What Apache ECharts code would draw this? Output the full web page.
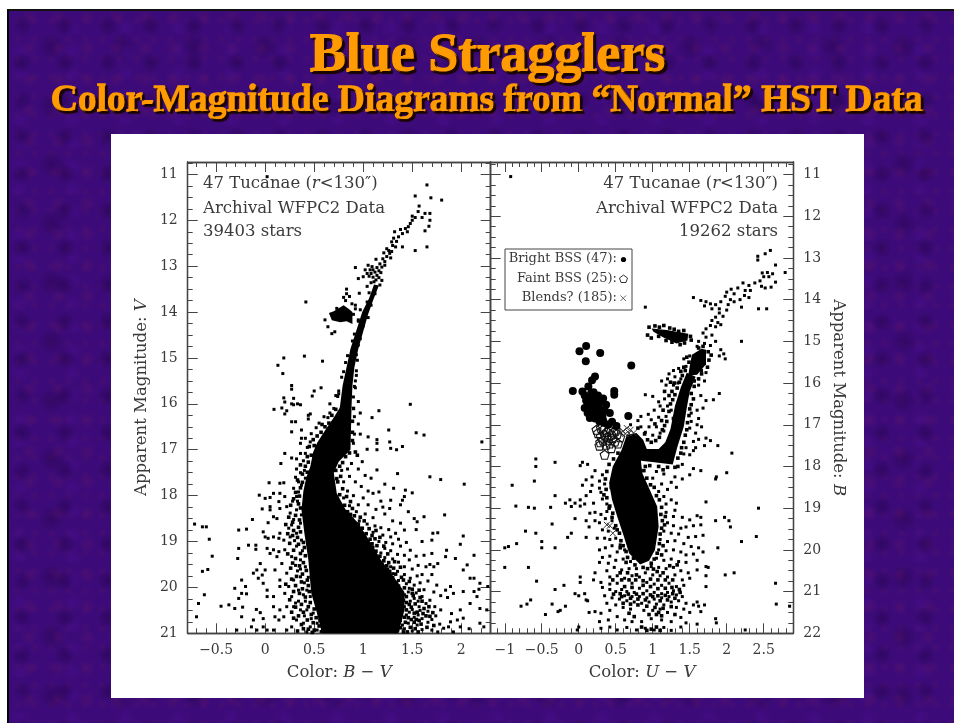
<!DOCTYPE html>
<html><head><meta charset="utf-8">
<style>
html,body{margin:0;padding:0;background:#fff;width:954px;height:723px;overflow:hidden}
#slide{position:absolute;left:7px;top:9px;width:947px;height:714px;box-sizing:border-box;border-left:2px solid #000;border-top:2px solid #111;
background-color:#3d0b79;
background-image:
radial-gradient(circle at 30% 40%,rgba(25,0,60,.36) 0,rgba(25,0,60,0) 11px),
radial-gradient(circle at 70% 20%,rgba(95,20,105,.36) 0,rgba(95,20,105,0) 8px),
radial-gradient(circle at 20% 75%,rgba(75,15,150,.36) 0,rgba(75,15,150,0) 9px),
radial-gradient(circle at 60% 60%,rgba(25,0,55,.3) 0,rgba(25,0,55,0) 14px),
radial-gradient(circle at 50% 50%,rgba(95,20,100,.26) 0,rgba(95,20,100,0) 5px);
background-size:43px 37px,29px 31px,53px 23px,71px 59px,17px 19px}
#panel{position:absolute;left:111px;top:134px;width:753px;height:564px;background:#fff}
#chart{position:absolute;left:0;top:0;width:954px;height:723px}
</style></head><body>
<div id="slide"></div><div id="panel"></div><div id="chart"></div>
<script src="https://cdn.jsdelivr.net/npm/echarts@6/dist/echarts.min.js"></script>
<script>
const titleText="Blue Stragglers";
const subtitleText="Color-Magnitude Diagrams from “Normal” HST Data";
const leftXLabels=[-0.5,0,0.5,1,1.5,2];
const rightXLabels=[-1,-0.5,0,0.5,1,1.5,2,2.5];
const leftYLabels=[11,12,13,14,15,16,17,18,19,20,21];
const rightYLabels=[11,12,13,14,15,16,17,18,19,20,21,22];

// Solid black regions of the left diagram, [B-V, V]
const leftCore=[[0.77,16.05],[0.70,16.3],[0.62,16.55],[0.53,16.85],[0.49,17.05],[0.46,17.37],[0.42,17.6],[0.39,17.9],[0.37,18.3],[0.40,18.82],[0.44,19.4],[0.47,20.13],[0.52,20.5],[0.58,21],[1.36,21],[1.42,20.5],[1.42,20.1],[1.31,19.77],[1.18,19.4],[1.08,19.04],[0.95,18.6],[0.82,18.3],[0.73,17.95],[0.70,17.5],[0.75,17.26],[0.87,17],[0.88,16.14],[0.87,16.05]];
const leftGiant=[[1.11,13.4],[1.06,13.7],[0.99,14.0],[0.93,14.4],[0.87,14.8],[0.83,15.2],[0.79,15.6],[0.76,16.1],[0.88,16.1],[0.89,15.6],[0.91,15.2],[0.95,14.8],[0.99,14.5],[1.05,14.05],[1.10,13.75],[1.16,13.42]];
const leftClump=[[0.65,14.02],[0.70,13.98],[0.80,13.85],[0.85,13.93],[0.89,14.0],[0.89,14.26],[0.83,14.2],[0.765,14.22],[0.68,14.18]];
// Individually read stars of the left diagram, [B-V, V]
const leftStars=[[0.02,11.05],[1.65,11.23],[1.53,11.47],[1.69,11.51],[1.80,11.56],[1.57,11.69],[1.56,11.81],[1.68,11.85],[1.63,11.85],[1.50,11.91],[1.53,11.94],[1.60,11.94],[1.68,12.0],[1.67,12.13],[1.46,12.14],[1.50,12.0],[1.43,12.18],[1.48,12.07],[1.45,12.25],[1.40,12.29],[1.32,12.25],[1.38,12.2],[1.36,12.36],[1.31,12.39],[1.29,12.47],[1.33,12.58],[1.40,12.58],[1.53,12.66],[1.65,12.58],[1.63,12.23],[1.21,12.71],[1.26,12.66],[1.29,12.68],[1.13,12.85],[1.34,12.46],[1.24,12.62],[1.30,12.55],[1.05,12.98],[1.09,13.01],[1.04,13.16],[1.0,13.23],[1.08,13.16],[1.02,13.08],[1.07,13.08],[0.92,13.03],[0.95,13.27],[1.11,13.34],[1.17,13.41],[1.04,13.44],[0.83,13.5],[0.83,13.6],[0.80,13.68],[0.86,13.66],[0.96,13.59],[0.415,13.78],[0.61,14.17],[0.64,14.32],[0.68,14.47],[0.71,14.43],[0.92,13.85],[0.885,13.82],[0.95,14.17],[0.82,13.75],[0.92,13.93],[0.90,14.05],[0.73,13.92],[0.75,13.96],
[1.24,12.79],[1.20,12.84],[1.22,12.9],[1.17,12.95],[1.19,13.02],[1.14,13.03],[1.16,13.1],[1.12,13.13],[1.18,13.14],[1.14,13.2],[1.10,13.24],[1.16,13.25],[1.13,13.3],[1.19,13.31],[1.08,13.36],[1.27,12.72],[1.28,12.82],[1.22,12.98],[1.1,13.08],[1.06,13.22],
[1.06,13.58],[1.12,13.6],[1.04,13.78],[1.08,13.85],[0.97,13.95],[1.05,14.12],[0.95,14.2],[1.0,14.3],[0.91,14.48],[0.97,14.58],[0.89,14.63],[0.95,14.72],[0.84,14.95],[0.93,14.93],[0.94,15.05],[0.82,15.1],[0.93,15.28],[0.80,15.3],[0.78,15.42],[0.92,15.5],[0.91,15.62],[0.75,15.72],[0.74,15.84],[0.90,15.85],
[0.19,15],[0.40,14.96],[0.13,15.16],[0.585,15.07],[0.18,15.34],[0.27,15.6],[0.27,15.68],[0.57,15.65],[0.5,15.72],[0.48,15.83],[0.19,15.87],[0.2,15.96],[0.29,15.88],[0.29,16.02],[0.36,16.02],[0.17,16.09],[0.09,16.12],[0.22,16.15],[0.2,16.22],[0.44,16.25],[0.27,16.0],[0.33,16.0],[1.16,16.15],[1.48,16.01],[1.09,16.3],[0.66,16.0],[0.72,15.82],[0.75,15.78],[0.92,15.65],[0.93,15.38],[0.70,16.1],[0.66,16.2],[0.64,16.3],[0.95,15.95],[0.97,16.2],
[0.27,16.39],[0.31,16.39],[0.44,16.33],[0.46,16.22],[0.27,16.61],[0.37,16.57],[0.37,16.75],[0.36,16.86],[0.46,16.83],[0.2,17.08],[0.36,17.08],[0.41,17.08],[0.16,17.3],[0.27,17.18],[0.32,17.2],[0.32,17.42],[0.52,16.52],[0.55,16.42],[0.60,16.28],[0.41,16.75],[0.47,16.65],[0.43,16.95],[0.39,17.24],[0.36,17.5],[0.31,17.6],[0.40,17.45],
[0.91,16.28],[0.95,16.44],[1.26,16.57],[1.54,16.63],[1.62,16.68],[2.21,16.83],[1.27,16.83],[1.40,16.93],[1.28,16.97],[1.34,17],[1.14,17],[1.04,16.99],[1.14,16.86],[1.14,16.78],[1.05,16.72],[0.97,16.66],[0.91,16.66],[0.90,16.86],[0.99,17.26],[1.14,17.44],[1.35,17.52],[1.68,17.59],[1.79,17.65],[2.03,17.75],[1.31,17.84],[1.43,17.88],[1.5,17.94],[1.22,17.75],[0.88,17.3],[0.84,17.42],[0.95,17.42],[1.02,17.56],[1.08,17.62],[0.78,17.45],[0.86,17.58],[0.92,17.7],[0.80,17.7],[0.98,17.8],[1.05,17.9],[1.1,17.95],[1.16,17.92],[0.84,17.9],[0.90,18.0],[0.80,18.05],[1.0,18.05],[1.18,18.12],[1.28,18.1],[1.4,18.1],[1.42,18.02],[1.38,18.2],[0.95,18.2],[1.05,18.2],[1.13,18.3],[1.2,18.25],[1.27,18.28],[0.86,18.22],[0.93,18.35],[1.02,18.4],[1.1,18.48],[1.22,18.4],[1.3,18.55],[1.38,18.6],[1.46,18.35],[1.52,18.5],
[1.83,18.42],[1.62,18.46],[1.55,18.57],[1.54,18.74],[1.71,18.82],[1.76,18.81],[1.70,18.97],[2.02,18.88],[1.99,19.06],[2.13,19.3],[1.85,19.19],[1.94,19.37],[1.84,19.33],[1.7,19.26],[1.6,19.0],[1.48,19.19],[1.54,19.32],[1.62,19.3],[2.06,19.51],[2.02,19.62],[2.09,19.8],[2.13,19.8],[2.19,19.91],[2.18,20.04],[2.27,19.98],[2.13,20.09],[2.02,20.09],[2.16,20.2],[2.09,20.35],[2.19,20.46],[2.26,20.49],[1.89,19.98],[1.84,20.06],[1.92,20.13],[1.86,20.22],[1.79,20.18],[1.9,20.57],[1.99,20.49],[2.02,20.67],[1.96,20.71],[1.89,20.75],[1.87,20.86],[2.19,20.78],[2.23,20.86],[2.08,20.9],[1.99,20.86],[1.92,20.97],[1.82,20.89],[1.79,20.49],[1.73,20.42],[1.68,20.28],[1.72,19.55],[1.68,19.5],[1.64,19.55],[1.76,19.48],[1.7,19.72],[1.6,19.72],[1.66,19.86],[1.75,19.95],[1.72,20.1],[1.62,20.05],
[0.96,18.55],[1.04,18.62],[1.12,18.66],[1.18,18.7],[1.26,18.74],[1.33,18.82],[1.42,18.75],[1.28,18.9],[1.2,18.86],[1.36,18.95],[1.10,18.8],[1.16,19.0],[1.23,19.02],[1.30,19.05],[1.38,19.1],[1.44,19.02],[1.22,19.15],[1.28,19.2],[1.35,19.28],[1.42,19.3],[1.47,19.4],[1.30,19.38],[1.22,19.35],[1.36,19.45],[1.42,19.55],[1.5,19.6],[1.56,19.52],[1.28,19.55],[1.35,19.65],[1.42,19.72],[1.48,19.8],[1.55,19.75],[1.36,19.85],[1.44,19.92],[1.52,19.95],[1.58,19.9],[1.38,20.05],[1.46,20.1],[1.54,20.12],[1.6,20.2],[1.40,20.22],[1.48,20.3],[1.56,20.3],[1.64,20.35],[1.36,20.32],[1.42,20.42],[1.5,20.48],[1.58,20.5],[1.66,20.52],[1.36,20.55],[1.44,20.6],[1.52,20.65],[1.6,20.68],[1.38,20.72],[1.46,20.78],[1.55,20.82],[1.34,20.85],[1.42,20.9],[1.5,20.95],[1.6,20.92],[1.34,20.65],[1.37,20.42],[1.7,20.7],[1.74,20.62],[1.78,20.8],[1.7,20.93],[1.76,20.97],[1.66,20.76],[1.33,20.25],[1.47,20.02],[1.3,19.7],[1.32,19.95],[1.25,19.6],[1.18,19.25],[1.1,19.12],[1.42,20.16],[1.52,20.24],[1.57,20.42],[1.47,20.54],[1.56,20.6],[1.4,20.82],
[0.15,17.73],[0.04,17.72],[0.19,17.72],[0.34,17.7],[0.37,17.77],[0.32,18.02],[0.2,18.02],[0.15,17.95],[-0.06,17.99],[0,18.06],[0.05,18.04],[0.085,17.95],[0.05,18.24],[0.05,18.31],[-0.03,18.29],[0.14,18.13],[0.15,18.28],[0.085,18.46],[0.12,18.5],[0.03,18.59],[-0.02,18.79],[0,18.9],[0.03,18.93],[0.085,18.9],[0.15,18.82],[0.14,18.93],[0.19,18.97],[0.24,18.71],[0.27,18.64],[0.29,18.52],[0.255,18.38],[0.22,18.24],[0.32,18.31],[0.36,18.6],[0.32,18.82],[0.255,18.9],[0.37,18.97],[0.32,19.1],[0.2,19.18],[0.14,19.22],[0.085,19.18],[0.02,19.15],[0.05,19.26],[0.12,19.33],[0,19.62],[-0.05,19.48],[-0.085,19.62],[-0.12,19.69],[-0.03,19.73],[-0.07,19.8],[-0.02,19.91],[0.1,19.62],[0.15,19.84],[0.22,19.69],[0.17,19.48],[0.27,19.33],[0.36,19.4],[0.24,19.98],[0.29,19.84],[0.36,19.77],[0.41,19.55],[0.15,19.98],[0.2,20.13],[0.27,20.2],[0.34,20.06],[0.425,20.06],[0.46,20.2],[0.085,20.2],[0.02,20.2],[0.085,20.42],[0.15,20.49],[0.14,20.71],[0.1,20.64],[0.19,20.64],[0.22,20.42],[0.29,20.42],[0.36,20.49],[0.425,20.49],[0.49,20.56],[0.32,20.71],[0.27,20.86],[0.22,20.93],[0.39,20.78],[0.46,20.86],[0.53,20.78],[0.53,20.93],[0.425,20.97],[0.085,20.93],[0.02,20.93],[-0.02,20.86],[-0.085,20.93],[0.34,20.3],[0.41,20.3],[0.38,19.2],[0.33,18.12],[0.37,18.42],[0.28,18.12],[0.41,17.62],[0.34,17.92],[0.29,17.84],[0.3,18.98],[0.36,19.6],[0.31,19.52],[0.33,19.64],[0.4,19.9],[0.44,19.78],[0.39,20.16],[0.31,20.34],[0.4,20.62],[0.47,20.68],[0.57,20.96],
[-0.72,18.62],[-0.64,18.68],[-0.60,18.68],[-0.57,18.95],[-0.54,19.32],[-0.585,19.61],[-0.64,19.65],[-0.62,20.16],[-0.68,20.35],[-0.70,20.64],[-0.27,18.75],[-0.19,18.73],[-0.13,18.52],[-0.27,19.15],[-0.17,19.08],[-0.095,19.08],[-0.095,19.17],[-0.28,19.37],[-0.24,19.84],[-0.31,20.02],[-0.2,19.98],[-0.19,20.14],[-0.24,20.13],[-0.27,20.24],[-0.45,20.41],[-0.37,20.38],[-0.31,20.46],[-0.23,20.43],[-0.24,20.64],[-0.29,20.93],[-0.14,20.86],[-0.12,20.71],[-0.09,20.48],[0.02,20.06],[-0.05,20.55],[-0.02,20.68]];
// Crowded fringe of the main sequence, left diagram, [B-V, V]
const leftFringe=[[0.36,17.33],[0.41,17.36],[0.38,17.53],[0.43,17.49],[0.33,17.66],[0.38,17.71],[0.36,17.83],[0.31,17.93],[0.35,18.01],[0.29,18.07],[0.34,18.18],[0.26,18.21],[0.36,18.27],[0.31,18.43],[0.24,18.47],[0.35,18.53],[0.28,18.58],[0.34,18.69],[0.21,18.63],[0.29,18.76],[0.36,18.79],[0.23,18.83],[0.33,18.91],[0.28,18.87],[0.39,19.02],[0.25,19.04],[0.34,19.06],[0.4,19.13],[0.29,19.19],[0.36,19.26],[0.23,19.27],[0.41,19.31],[0.31,19.37],[0.39,19.46],[0.28,19.47],[0.35,19.53],[0.42,19.63],[0.26,19.58],[0.38,19.71],[0.32,19.76],[0.43,19.84],[0.27,19.82],[0.37,19.88],[0.44,19.96],[0.31,19.96],[0.21,19.93],[0.38,20.03],[0.45,20.09],[0.29,20.09],[0.35,20.13],[0.41,20.21],[0.25,20.27],[0.46,20.33],[0.37,20.37],[0.31,20.43],[0.44,20.42],[0.5,20.47],[0.39,20.54],[0.27,20.54],[0.47,20.59],[0.34,20.62],[0.52,20.66],[0.43,20.71],[0.29,20.67],[0.37,20.81],[0.49,20.77],[0.55,20.84],[0.44,20.91],[0.33,20.95],[0.5,20.93],[0.39,20.9],[0.56,20.72],[0.48,20.98],
[0.77,17.58],[0.74,17.7],[0.79,17.85],[0.76,17.98],[0.83,18.02],[0.87,18.13],[0.81,18.21],[0.89,18.28],[0.84,18.35],[0.91,18.44],[0.87,18.41],[0.97,18.47],[0.95,18.62],[1.01,18.55],[0.99,18.71],[1.06,18.72],[1.03,18.83],[1.09,18.87],[1.13,18.76],[1.07,18.95],[1.12,18.94],[1.17,18.91],[1.09,19.05],[1.14,19.09],[1.21,19.1],[1.13,19.21],[1.17,19.32],[1.25,19.27],[1.21,19.42],[1.26,19.46],[1.32,19.44],[1.19,19.49],[1.24,19.53],[1.31,19.58],[1.38,19.56],[1.27,19.65],[1.33,19.71],[1.39,19.78],[1.3,19.79],[1.34,19.89],[1.41,19.84],[1.47,19.87],[1.36,19.97],[1.42,20.01],[1.5,20.04],[1.39,20.12],[1.44,20.2],[1.51,20.18],[1.57,20.06],[1.41,20.28],[1.47,20.37],[1.53,20.36],[1.6,20.3],[1.39,20.37],[1.44,20.49],[1.52,20.56],[1.61,20.57],[1.39,20.5],[1.42,20.65],[1.49,20.7],[1.57,20.72],[1.64,20.62],[1.36,20.76],[1.43,20.76],[1.52,20.76],[1.59,20.8],[1.65,20.87],[1.35,20.93],[1.45,20.97],[1.53,20.9],[1.56,20.97],[1.38,20.88],[1.33,20.96],[1.35,20.6],[1.38,20.28],[1.62,20.46],[1.55,20.54],[1.49,20.43],[1.46,20.66],[1.54,20.7],[1.48,20.87],[1.41,20.97],[1.38,20.62],[1.35,20.47],[1.44,20.33],[1.5,20.13],[1.58,20.22],[1.67,20.42],[1.71,20.55],[1.68,20.63],[1.72,20.83],
[0.61,16.5],[0.57,16.62],[0.53,16.7],[0.49,16.78],[0.5,16.91],[0.45,16.93],[0.47,17.12],[0.43,17.15],[0.44,17.27],[0.58,16.45],[0.65,16.42],[0.68,16.25],[0.72,16.12],[0.9,16.1],[0.89,16.38],[0.89,16.62],[0.89,16.8],[0.86,17.07],[0.82,17.15],[0.79,17.28],[0.76,17.36],[0.72,17.45],[0.73,17.63],[0.92,17.05],[0.94,17.12]];

// Solid black regions of the right diagram, [U-V, B]
const rightCore=[[0.65,17.24],[0.58,17.6],[0.46,18],[0.41,18.4],[0.45,18.8],[0.52,19.2],[0.61,19.68],[0.68,20.08],[0.83,20.35],[0.95,20.26],[1.03,20],[1.08,19.44],[1.06,18.96],[0.96,18.56],[0.86,18.16],[0.84,17.86],[1.02,17.9],[1.27,17.95],[1.33,17.55],[1.42,17.04],[1.46,16.6],[1.5,16.2],[1.58,15.85],[1.46,15.75],[1.38,16.1],[1.3,16.55],[1.24,17.1],[1.17,17.42],[1.08,17.58],[0.92,17.58],[0.87,17.36],[0.78,17.2]];
const rightGiant=[[1.5,15.6],[1.53,15.32],[1.66,15.18],[1.72,15.2],[1.72,15.55],[1.6,15.8],[1.48,15.82]];
const rightClump=[[0.985,14.69],[1.19,14.73],[1.48,14.82],[1.47,14.98],[1.32,15.05],[1.14,14.90],[1.01,14.77]];
// Highlighted blue stragglers, [U-V, B]
const brightBSS=[[0.10,15.11],[0.01,15.24],[0.29,15.28],[0.095,15.48],[0.71,15.58],[0.22,15.84],[0.18,15.93],[-0.08,16.19],[0.05,16.2],[0.13,16.08],[0.17,16.24],[0.48,16.19],[0.48,16.28],[0.10,16.42],[0.22,16.37],[0.33,16.37],[0.22,16.49],[0.15,16.69],[0.22,16.73],[0.35,16.65],[0.67,16.79],[0.15,16.84],[0.25,16.72],[0.42,16.72],[0.28,16.92],[0.40,17.0],[0.51,17.03],[0.08,16.3],[0.14,16.34],[0.27,16.56],[0.12,16.5],[0.2,16.62],[0.18,16.78],[0.3,16.44],[0.26,16.3],[0.17,16.58],[0.12,16.72],[0.22,16.85],[0.32,16.8],[0.34,16.95],[0.45,16.93],[0.27,16.68],[0.08,16.6],[0.15,16.42],[0.37,16.52],[0.2,16.22],[0.33,16.9]];
const faintBSS=[[0.26,17.2],[0.35,17.24],[0.44,17.24],[0.52,17.22],[0.29,17.42],[0.40,17.36],[0.49,17.4],[0.35,17.72],[0.44,17.56],[0.24,17.12],[0.33,17.12],[0.42,17.12],[0.5,17.14],[0.37,17.48],[0.46,17.32],[0.3,17.28],[0.38,17.3],[0.56,17.3],[0.28,17.5],[0.53,17.45],[0.3,17.08],[0.47,17.18],[0.38,17.17],[0.33,17.38],[0.42,17.45]];
const blends=[[0.6,17.15],[0.65,17.08],[0.7,17.12],[0.74,17.2],[0.63,17.22],[0.68,17.2],[0.55,17.2],[0.42,19.42],[0.38,19.4],[0.46,19.6]];
// Individually read stars of the right diagram, [U-V, B]
const rightStars=[[-0.92,11.05],[2.42,12.96],[2.52,12.9],[2.59,12.82],[2.42,13.05],[2.66,13.17],[2.79,13.35],[2.48,13.36],[2.55,13.35],[2.62,13.38],[2.5,13.45],[2.57,13.45],[2.45,13.55],[2.66,13.58],[2.6,13.7],[2.52,13.72],[2.47,13.68],[2.38,13.6],[2.3,13.66],[2.22,13.6],[2.25,13.78],[2.32,13.78],[2.15,13.72],[2.06,13.75],[2.0,13.82],[2.1,13.86],[2.24,13.9],[2.3,13.95],[2.18,14.0],[2.1,14.05],[2.05,14.0],[1.98,13.92],[1.92,14.05],[1.85,14.12],[1.78,14.1],[1.72,14.05],[1.65,14.02],[1.7,14.15],[1.8,14.22],[1.9,14.22],[2.02,14.12],[2.0,14.25],[1.9,14.32],[1.85,14.42],[1.95,14.4],[1.8,14.5],[1.88,14.55],[1.78,14.62],[1.85,14.65],[1.72,14.7],[1.92,14.6],[2.2,14.18],[2.43,14.22],[2.54,14.22],[1.55,13.95],[0.9,14.18],
[1.68,14.8],[1.72,14.9],[1.8,14.85],[1.62,15.0],[1.7,15.05],[1.78,15.1],[1.6,15.12],[1.85,15.0],[1.92,15.2],[1.96,15.3],[1.9,15.35],[1.98,15.42],[2.2,15.0],[1.6,15.4],[1.5,15.35],[1.55,15.45],[1.42,15.42],[1.45,15.6],[1.35,15.65],[1.28,15.7],[1.22,15.78],[1.3,15.85],[1.38,15.9],[1.2,15.9],[1.12,15.95],[1.18,16.05],[1.28,16.05],[1.34,16.0],[1.66,15.7],[1.72,15.75],[1.7,15.95],[1.62,16.05],[1.82,16.4],[1.9,16.25],[1.72,16.42],[1.65,16.3],[0.9,16.28],[1.0,16.32],[1.08,16.45],[1.16,16.38],[1.1,16.55],[1.2,16.55],[1.02,16.65],[0.94,16.75],[0.84,16.8],[0.98,16.88],[1.08,16.82],[1.18,16.8],[1.25,16.65],[1.6,16.65],[1.68,16.6],[1.52,16.72],[1.52,16.92],[1.62,16.85],[1.6,17.0],[1.66,17.05],[1.5,17.08],[1.58,17.2],[1.55,17.4],[1.62,17.35],[1.7,17.5],[1.72,17.32],[1.78,17.38],[1.58,17.55],[1.45,17.55],[1.42,17.7],[1.5,17.72],[1.55,17.62],[1.88,17.5],[2.07,17.68],[0.8,16.9],[0.7,17.0],[0.84,17.05],[0.95,17.05],[1.05,17.05],[1.1,17.2],[1.0,17.25],[0.9,17.18],[1.15,17.15],
[1.4,17.95],[1.55,18.05],[1.65,18.1],[1.85,18.3],[1.86,18.25],[2.0,18.15],[1.5,18.2],[1.4,18.3],[1.3,18.25],[1.15,18.18],[1.05,18.12],[1.0,18.28],[1.12,18.42],[1.25,18.38],[1.32,18.5],[1.2,18.55],[1.08,18.6],[1.15,18.72],[1.25,18.8],[1.18,18.9],[1.32,18.88],[1.72,18.85],[1.3,19.05],[1.18,19.1],[1.28,19.2],[1.4,19.22],[1.5,19.28],[1.6,19.18],[1.65,19.22],[1.85,19.3],[1.97,19.22],[2.03,19.3],[2.05,19.45],[2.43,19.0],[2.2,19.8],[2.4,19.68],[1.88,19.95],[1.65,19.4],[1.45,19.45],[1.55,19.42],[1.38,19.48],[1.28,19.42],[1.2,19.35],[1.15,19.55],[1.25,19.6],[1.35,19.62],[1.48,19.7],[1.58,19.68],[1.68,19.65],[1.1,19.75],[1.2,19.8],[1.3,19.78],[1.42,19.85],[1.52,19.92],[1.62,19.95],[1.68,20.05],[1.08,20.0],[1.18,20.02],[1.28,20.0],[1.38,20.05],[1.45,20.12],[1.55,20.1],[1.6,20.25],[1.05,20.2],[1.15,20.25],[1.25,20.22],[1.35,20.28],[1.45,20.3],[1.72,20.4],[1.75,20.42],[0.98,20.4],[1.08,20.42],[1.18,20.45],[1.28,20.42],[1.38,20.5],[1.48,20.55],[1.6,20.48],[1.72,20.62],[1.98,20.6],[2.1,20.55],[0.9,20.55],[1.0,20.6],[1.1,20.62],[1.2,20.65],[1.3,20.6],[1.4,20.72],[1.5,20.68],[2.66,20.8],
[0.82,20.65],[0.92,20.78],[1.02,20.82],[1.12,20.85],[1.22,20.8],[1.32,20.88],[1.42,20.85],[1.72,20.88],[0.72,20.8],[0.82,20.92],[0.92,20.98],[1.02,21.02],[1.12,21.05],[1.2,21.02],[1.28,20.98],[0.75,21.02],[0.65,21.0],[0.62,21.1],[0.72,21.12],[0.82,21.12],[0.92,21.15],[1.02,21.18],[1.12,21.15],[1.22,21.12],[1.32,21.08],[1.4,21.12],[0.58,20.95],[0.5,21.0],[0.55,21.18],[0.65,21.22],[0.75,21.25],[0.85,21.28],[0.95,21.25],[1.05,21.3],[1.15,21.32],[1.25,21.25],[1.35,21.22],[1.45,21.28],[1.55,21.32],[1.6,21.25],[0.45,21.15],[0.35,21.1],[0.38,21.28],[0.5,21.32],[0.6,21.38],[0.7,21.42],[0.88,21.45],[1.0,21.45],[1.1,21.42],[1.2,21.5],[1.32,21.38],[1.42,21.42],[1.5,21.5],[1.62,21.35],[1.7,21.32],[1.65,21.48],[1.85,21.65],[1.86,21.75],[2.67,21.3],[2.85,21.35],
[0.12,21.22],[0.0,21.1],[-0.05,21.05],[-0.18,21.35],[-0.25,21.45],[-0.28,21.48],[-0.36,21.3],[-0.45,21.55],[-0.65,21.2],[-0.7,21.3],[-0.78,21.35],[0.1,21.2],[0.14,21.5],[0.22,21.48],[0.3,21.52],[0.42,21.45],[0.28,21.72],[0.4,21.68],[0.52,21.6],[0.62,21.68],[0.72,21.72],[0.85,21.72],[0.98,21.65],[1.12,21.68],[1.25,21.72],[1.38,21.62],[1.45,21.75],[1.6,21.78],[0.3,21.88],[0.42,21.85],[0.52,21.92],[0.65,21.86],[0.78,21.92],[0.9,21.88],[1.02,21.92],[1.15,21.86],[1.25,21.93],[1.38,21.85],[0.0,21.85],[-0.02,21.92],[2.25,21.92],
[0.5,18.25],[0.32,18.2],[0.22,18.1],[0.18,18.25],[0.1,18.32],[0.05,18.45],[0.18,18.45],[0.28,18.35],[0.35,18.42],[0.28,18.52],[0.16,18.6],[0.3,18.62],[0.1,18.7],[0.02,18.8],[-0.12,18.8],[0.02,18.95],[-0.05,18.88],[0.08,18.9],[0.2,18.88],[0.32,18.78],[0.38,18.9],[0.15,19.12],[0.22,19.1],[0.3,19.15],[0.38,19.08],[0.1,19.3],[0.14,19.45],[0.22,19.3],[0.28,19.35],[0.36,19.25],[0.45,19.3],[0.48,19.48],[0.4,19.55],[0.32,19.52],[0.1,19.7],[0.25,19.72],[0.35,19.72],[0.42,19.75],[0.5,19.72],[0.56,19.88],[0.45,19.9],[0.36,19.95],[0.28,20.0],[0.62,20.0],[0.52,20.05],[0.42,20.15],[0.32,20.18],[0.28,20.3],[0.4,20.32],[0.5,20.25],[0.6,20.22],[0.7,20.28],[0.38,20.5],[0.48,20.42],[0.58,20.48],[0.68,20.45],[0.78,20.45],[0.22,20.55],[0.42,20.65],[0.52,20.62],[0.62,20.68],[0.72,20.62],[0.2,20.72],[0.3,20.78],[0.42,20.82],[0.52,20.8],[0.32,20.9],[0.42,20.95],
[0.05,17.9],[0.02,17.98],[0.12,17.95],[-0.32,17.9],[-0.58,17.82],[-0.58,18.0],[-0.6,18.35],[-0.32,18.7],[-0.38,18.98],[-0.85,18.95],[-0.9,18.45],[-0.6,19.0],[-0.68,18.98],[-0.36,19.38],[-0.72,19.55],[-0.1,18.96],[-0.1,19.6],[-0.15,19.7],[-0.05,19.25],[-0.18,18.88],[-0.5,19.8],[-0.58,19.6],[-0.84,19.85],[-1.0,19.95],[-0.95,19.92],[-1.0,20.42],[-0.68,20.42],[-0.57,20.75],[-0.32,20.95],[-0.5,19.95],[-0.32,19.95],[0.02,20.65],[-0.2,20.85],[0.02,20.78],[0.08,21.05]];
// Crowded fringe of the right diagram, [U-V, B]
const rightFringe=[[1.03,14.63],[1.09,14.66],[1.15,14.62],[1.23,14.68],[1.29,14.71],[1.35,14.76],[1.42,14.74],[1.51,14.88],[1.52,14.97],[1.43,15.04],[1.37,15.08],[1.26,15.02],[1.18,14.98],[1.08,14.88],[0.95,14.66],[0.93,14.85],[0.98,14.92],
[1.62,15.16],[1.68,15.12],[1.75,15.25],[1.79,15.33],[1.46,15.38],[1.49,15.5],[1.76,15.45],[1.74,15.62],[1.66,15.78],[1.44,15.7],[1.4,15.82],[1.62,15.9],[1.56,15.95],[1.36,15.98],[1.33,16.12],[1.56,16.08],[1.52,16.25],[1.3,16.28],[1.27,16.4],[1.55,16.38],[1.24,16.5],[1.52,16.52],[1.22,16.68],[1.5,16.62],[1.19,16.92],[1.49,16.78],[1.16,17.02],[1.47,16.95],[1.13,17.12],[1.46,17.12],[1.09,17.3],[1.44,17.25],[1.04,17.38],[0.98,17.42],[1.42,17.42],[0.93,17.36],[1.39,17.55],[1.38,17.68],[1.34,17.8],[0.89,17.22],[0.8,17.08],[1.32,16.72],[1.28,16.85],[1.26,16.2],[1.22,16.3],[1.14,16.65],[1.12,16.9],[1.03,16.98],[1.24,15.98],[1.16,16.2],[1.42,15.62],[1.38,15.72],[1.29,16.0],
[1.3,18.02],[1.2,18.02],[1.08,18.0],[0.96,17.98],[0.9,18.0],[1.14,18.08],[1.34,18.0],[0.88,18.1],[0.92,18.28],[0.97,18.44],[1.02,18.5],[1.05,18.7],[1.09,18.8],[1.12,18.98],[1.11,19.15],[1.13,19.3],[1.12,19.48],[1.16,19.4],[1.17,19.2],[1.1,19.62],[1.09,19.85],[1.14,19.9],[1.06,20.08],[1.12,20.12],[1.02,20.22],[0.98,20.32],[1.01,20.46],[1.06,20.52],[1.14,20.55],[1.23,20.38],[1.33,20.36],[0.93,20.45],[0.87,20.42],[0.76,20.36],[0.74,20.2],[0.66,20.18],[0.64,20.04],[0.6,19.9],[0.57,19.78],[0.55,19.6],[0.5,19.42],[0.46,19.12],[0.41,19.0],[0.38,18.75],[0.37,18.55],[0.36,18.3],[0.38,18.12],[0.41,17.95],[0.47,17.82],[0.53,17.68],[0.44,18.5],[0.34,18.68],[0.42,18.95],[0.45,19.22],[0.52,19.52],[0.56,19.95],[0.64,20.3],
[0.78,20.6],[0.66,20.55],[0.56,20.55],[0.46,20.72],[0.58,20.72],[0.68,20.72],[0.77,20.72],[0.87,20.74],[0.97,20.7],[1.07,20.72],[1.17,20.72],[1.27,20.72],[0.87,20.85],[0.97,20.88],[1.07,20.93],[1.17,20.92],[1.26,20.9],[1.36,20.95],[0.62,20.88],[0.72,20.9],[0.56,21.05],[0.67,21.06],[0.78,21.06],[0.87,21.05],[0.97,21.08],[1.07,21.1],[1.17,21.09],[1.27,21.05],[1.37,21.02],[0.47,21.06],[0.58,21.12],[0.7,21.16],[0.8,21.18],[0.9,21.2],[1.0,21.12],[1.1,21.22],[1.2,21.2],[1.3,21.16],[0.6,21.28],[0.7,21.3],[0.8,21.32],[0.92,21.35],[1.03,21.38],[1.14,21.4],[1.25,21.36],[1.05,21.55],[1.12,21.58],[1.08,21.5],[0.68,21.52],[0.75,21.6],[0.95,21.55],[1.3,21.55],[0.85,21.85],[0.92,21.93],[0.98,21.9],[1.05,21.85],[1.1,21.93]];

function range(a,b,s){const o=[];for(let i=0;Math.round(a*100+i*s*100)<=Math.round(b*100);i++)o.push(Math.round(a*100+i*s*100)/100);return o}
const minor=(a,b,s,maj)=>range(a,b,s).filter(v=>!maj.includes(v));
const fmt=v=>String(v).replace('-','−');
const axisColor='#444', textColor='#3a3a3a', font='DejaVu Serif';
function mkAxis(dim,pos,grid,min,max,ticks,len,labels,extra){
  return Object.assign({type:'value',gridIndex:grid,position:pos,min,max,scale:true,
    axisLine:{show:true,onZero:false,lineStyle:{color:axisColor,width:1.3}},
    axisTick:{show:true,inside:true,length:len,customValues:ticks,lineStyle:{color:axisColor,width:1}},
    splitLine:{show:false},minorTick:{show:false},
    axisLabel:labels?{show:true,customValues:labels,formatter:fmt,color:textColor,fontFamily:font,fontSize:14,margin:10,hideOverlap:false,showMinLabel:true,showMaxLabel:true}:{show:false}},extra||{});
}
function axesFor(grid,xr,yr,xMaj,xMin,yMaj,yMin,xName,yName,yPos){
  const other=yPos==='left'?'right':'left';
  const rich={a:{fontFamily:font,fontSize:16.5,color:textColor},i:{fontFamily:font,fontSize:16.5,color:textColor,fontStyle:'italic'}};
  const xs=[
   mkAxis('x','bottom',grid,xr[0],xr[1],xMaj,10,xMaj,{name:xName,nameLocation:'middle',nameGap:31,nameTextStyle:{rich}}),
   mkAxis('x','top',grid,xr[0],xr[1],xMaj,10,null),
   mkAxis('x','bottom',grid,xr[0],xr[1],xMin,5,null),
   mkAxis('x','top',grid,xr[0],xr[1],xMin,5,null)];
  const ys=[
   mkAxis('y',yPos,grid,yr[0],yr[1],yMaj,10,yMaj,{inverse:true,name:yName,nameLocation:'middle',nameGap:yPos==='left'?37:36,nameRotate:yPos==='left'?90:-90,nameTextStyle:{rich}}),
   mkAxis('y',other,grid,yr[0],yr[1],yMaj,10,null,{inverse:true}),
   mkAxis('y',yPos,grid,yr[0],yr[1],yMin,5,null,{inverse:true}),
   mkAxis('y',other,grid,yr[0],yr[1],yMin,5,null,{inverse:true})];
  return {xs,ys};
}
const L=axesFor(0,[-0.79,2.3],[10.73,21],leftXLabels,minor(-0.7,2.3,0.1,leftXLabels),leftYLabels,minor(10.75,21,0.25,leftYLabels),'{a|Color: }{i|B}{a| − }{i|V}','{a|Apparent Magnitude: }{i|V}','left');
const R=axesFor(1,[-1.19,2.9],[10.7,22],rightXLabels,minor(-1.1,2.9,0.1,rightXLabels),rightYLabels,minor(10.75,22,0.25,rightYLabels),'{a|Color: }{i|U}{a| − }{i|V}','{a|Apparent Magnitude: }{i|B}','right');
const xAxes=[...L.xs,...R.xs], yAxes=[...L.ys,...R.ys];
function poly(name,data,xi,yi){return {type:'custom',name,xAxisIndex:xi,yAxisIndex:yi,data,silent:true,animation:false,encode:{x:0,y:1},
  renderItem:(p,api)=>p.dataIndex===0?{type:'polygon',shape:{points:data.map(v=>api.coord(v))},style:{fill:'#000'}}:null}}
function dots(name,data,xi,yi,size,symbol,style){return {type:'scatter',name,xAxisIndex:xi,yAxisIndex:yi,data,symbol:symbol||'rect',symbolSize:size,silent:true,animation:false,itemStyle:Object.assign({color:'#000',opacity:1},style||{})}}
const pentagon='path://M0,-10 L9.5,-3.1 L5.9,8.1 L-5.9,8.1 L-9.5,-3.1 Z';
const cross='path://M-10,-10 L10,10 M10,-10 L-10,10';
const series=[
 poly('leftCore',leftCore,0,0),poly('leftGiant',leftGiant,0,0),poly('leftClump',leftClump,0,0),
 dots('leftStars',leftStars,0,0,3),
 dots('leftFringe',leftFringe,0,0,3.6),
 poly('rightCore',rightCore,4,4),poly('rightGiant',rightGiant,4,4),poly('rightClump',rightClump,4,4),
 dots('rightStars',rightStars,4,4,3),
 dots('rightFringe',rightFringe,4,4,3.6),
 dots('faintBSS',faintBSS,4,4,9,pentagon,{color:'none',borderColor:'#111',borderWidth:1.1}),
 dots('blends',blends,4,4,6,cross,{color:'none',borderColor:'#333',borderWidth:1}),
 dots('brightBSS',brightBSS,4,4,8,'circle')
];
const tx=(x,y,text,align,size,extra)=>({type:'text',x,y,z:20,silent:true,style:Object.assign({text,fill:textColor,align:align,verticalAlign:'middle',font:(size||16.5)+'px "'+font+'"'},extra||{})});
const richT={r:{font:'italic 16.5px "'+font+'"',fill:textColor},n:{font:'16.5px "'+font+'"',fill:textColor}};
const chart=echarts.init(document.getElementById('chart'),null,{renderer:'canvas'});
chart.setOption({
 backgroundColor:'transparent',animation:false,
 title:[
  {text:titleText,left:483,top:25,textAlign:'center',textStyle:{color:'#ff9a00',fontFamily:'Liberation Serif',fontWeight:'bold',fontSize:54,textBorderColor:'#ff9a00',textBorderWidth:2,textShadowColor:'#1a0500',textShadowOffsetX:2,textShadowOffsetY:2,textShadowBlur:1}},
  {text:subtitleText,left:482,top:77,textAlign:'center',textStyle:{color:'#ff9a00',fontFamily:'Liberation Serif',fontWeight:'bold',fontSize:37.5,textBorderColor:'#ff9a00',textBorderWidth:1.6,textShadowColor:'#1a0500',textShadowOffsetX:2,textShadowOffsetY:2,textShadowBlur:1}}
 ],
 grid:[{left:187.7,top:162,width:303,height:471.3,containLabel:false},{left:490.7,top:162,width:302.6,height:471.3,containLabel:false}],
 xAxis:xAxes,yAxis:yAxes,series,
 graphic:[
  {type:'text',x:203,y:184,z:20,silent:true,style:{text:'{n|47 Tucanae (}{r|r}{n|<130″)}',rich:richT,verticalAlign:'middle',align:'left'}},
  tx(203,209,'Archival WFPC2 Data','left'),
  tx(203,232,'39403 stars','left'),
  {type:'text',x:778,y:184,z:20,silent:true,style:{text:'{n|47 Tucanae (}{r|r}{n|<130″)}',rich:richT,verticalAlign:'middle',align:'right'}},
  tx(778,209,'Archival WFPC2 Data','right'),
  tx(778,232,'19262 stars','right'),
  {type:'rect',z:19,silent:true,shape:{x:505,y:249,width:127,height:61},style:{fill:'#fff',stroke:'#444',lineWidth:1}},
  tx(617,259,'Bright BSS (47):','right',13),
  tx(617,279,'Faint BSS (25):','right',13),
  tx(617,298,'Blends? (185):','right',13),
  {type:'circle',z:20,silent:true,shape:{cx:623.5,cy:259.5,r:2.6},style:{fill:'#000'}},
  {type:'polygon',z:20,silent:true,shape:{points:[[623.5,275],[627.5,278],[626,282.5],[621,282.5],[619.5,278]]},style:{fill:'#fff',stroke:'#333',lineWidth:1}},
  {type:'line',z:20,silent:true,shape:{x1:620.5,y1:295.5,x2:626,y2:301},style:{stroke:'#444',lineWidth:.8}},
  {type:'line',z:20,silent:true,shape:{x1:626,y1:295.5,x2:620.5,y2:301},style:{stroke:'#444',lineWidth:.8}}
 ]
});
</script></body></html>
